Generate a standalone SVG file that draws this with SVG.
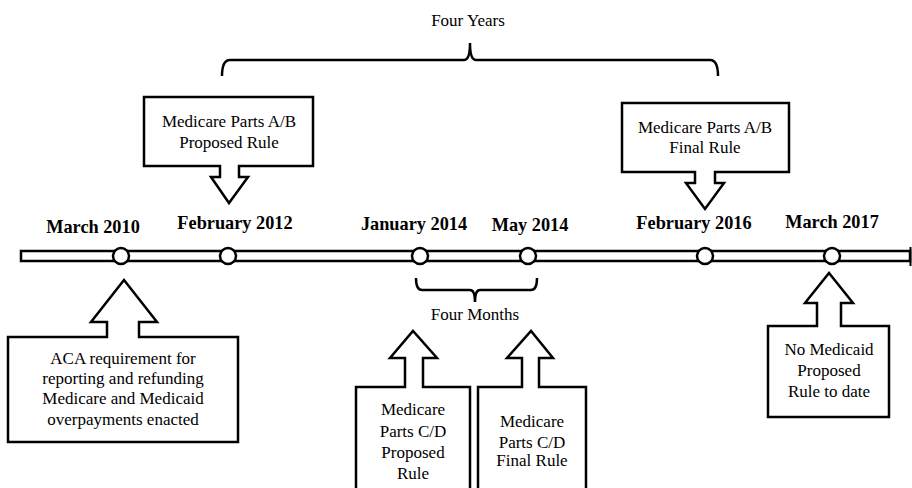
<svg xmlns="http://www.w3.org/2000/svg" width="912" height="488" viewBox="0 0 912 488">
<style>
.shape{fill:#fff;stroke:#000;stroke-width:2.5;stroke-linejoin:miter}
.br{fill:none;stroke:#000;stroke-width:2.5}
.t{font-family:"Liberation Serif","Times New Roman",serif;font-size:17px;fill:#000;text-anchor:middle}
.d{font-family:"Liberation Serif","Times New Roman",serif;font-size:18.3px;font-weight:bold;fill:#000;text-anchor:middle}
.dot{fill:#fff;stroke:#000;stroke-width:2.5}
</style>
<rect width="912" height="488" fill="#fff"/>
<g id="connectors">
<rect x="21" y="251" width="889" height="10" class="shape"/>
<line x1="910.5" y1="247" x2="910.5" y2="266" stroke="#000" stroke-width="2"/>
<path class="br" d="M222,76 Q222,60 230,60 H464 Q470,60 470,43 Q470,60 476,60 H710 Q718,60 718,76"/>
<path class="br" d="M416,278 Q416,290 422,290 H470 Q475,290 475,302 Q475,290 480,290 H531 Q537,290 537,278"/>
</g>
<g id="label-four-years"><text class="t" x="468" y="26">Four Years</text></g>
<g id="label-four-months"><text class="t" x="475" y="320">Four Months</text></g>
<g id="m2010"><circle class="dot" cx="121" cy="256" r="8"/><text class="d" x="93" y="233">March 2010</text></g>
<g id="f2012"><circle class="dot" cx="228" cy="256" r="8"/><text class="d" x="235" y="229">February 2012</text></g>
<g id="j2014"><circle class="dot" cx="420" cy="256" r="8"/><text class="d" x="414" y="230">January 2014</text></g>
<g id="may2014"><circle class="dot" cx="528" cy="256" r="8"/><text class="d" x="530" y="231">May 2014</text></g>
<g id="f2016"><circle class="dot" cx="705" cy="256" r="8"/><text class="d" x="694" y="229">February 2016</text></g>
<g id="m2017"><circle class="dot" cx="832" cy="256" r="8"/><text class="d" x="832" y="228">March 2017</text></g>
<g id="ab-proposed">
<path class="shape" d="M144,97 H313 V166 H239 V177 H248 L229,203 L211,177 H220 V166 H144 Z"/>
<text class="t" x="229" y="127">Medicare Parts A/B</text>
<text class="t" x="229" y="148">Proposed Rule</text>
</g>
<g id="ab-final">
<path class="shape" d="M622,103 H789 V172 H715 V183 H724 L705,209 L686,183 H695 V172 H622 Z"/>
<text class="t" x="705" y="133">Medicare Parts A/B</text>
<text class="t" x="705" y="153">Final Rule</text>
</g>
<g id="aca">
<path class="shape" d="M8,337 H107 V322 H91 L124,280 L157,322 H139 V337 H238 V442 H8 Z"/>
<text class="t" x="123" y="364">ACA requirement for</text>
<text class="t" x="123" y="384">reporting and refunding</text>
<text class="t" x="123" y="404">Medicare and Medicaid</text>
<text class="t" x="123" y="425">overpayments enacted</text>
</g>
<g id="cd-proposed">
<path class="shape" d="M356,387 H405 V358 H390 L413,331 L437,358 H423 V387 H470 V495 H356 Z"/>
<text class="t" x="413" y="415">Medicare</text>
<text class="t" x="413" y="437">Parts C/D</text>
<text class="t" x="413" y="458">Proposed</text>
<text class="t" x="413" y="479">Rule</text>
</g>
<g id="cd-final">
<path class="shape" d="M478,387 H522 V358 H507 L531,331 L553,358 H539 V387 H586 V495 H478 Z"/>
<text class="t" x="532" y="427">Medicare</text>
<text class="t" x="532" y="448">Parts C/D</text>
<text class="t" x="532" y="466">Final Rule</text>
</g>
<g id="no-medicaid">
<path class="shape" d="M768,326 H817 V303 H805 L829,273 L853,303 H841 V326 H889 V417 H768 Z"/>
<text class="t" x="829" y="355">No Medicaid</text>
<text class="t" x="829" y="376">Proposed</text>
<text class="t" x="829" y="397">Rule to date</text>
</g>
</svg>
